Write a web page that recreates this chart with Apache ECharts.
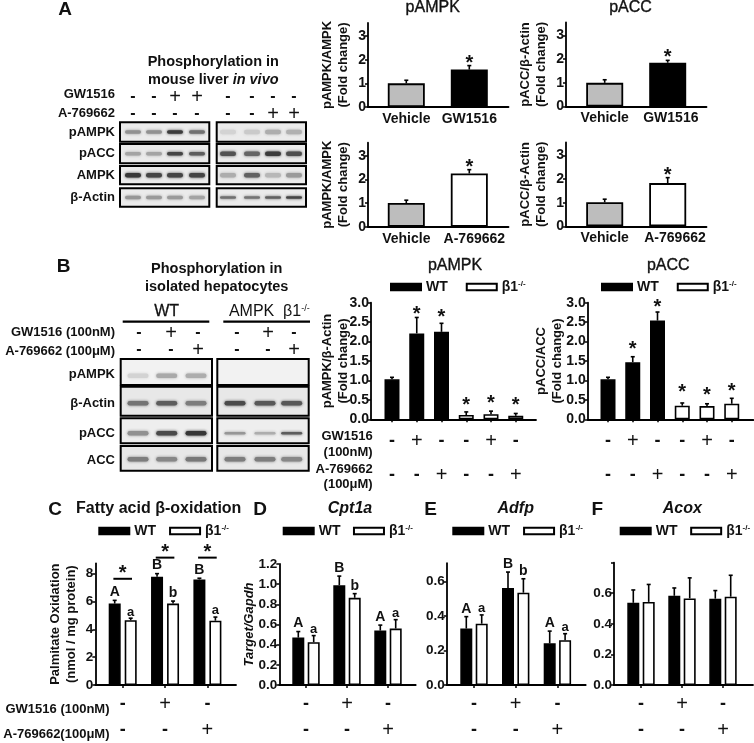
<!DOCTYPE html>
<html><head><meta charset="utf-8">
<style>html,body{margin:0;padding:0;background:#fff}#chart{width:754px;height:743px}#chart canvas{filter:blur(.3px)}</style>
<script src="https://cdn.jsdelivr.net/npm/echarts@6/dist/echarts.min.js"></script>
</head><body><div id="chart"></div>
<script>
// ---------- DATA ----------
const vehicleGw = ['Vehicle','GW1516'];
const vehicleA = ['Vehicle','A-769662'];
const aPampkGw = [1.0,1.58],  aPampkGwErr = [1.13,1.75];
const aPaccGw  = [1.0,1.85],  aPaccGwErr  = [1.13,1.95];
const aPampkA  = [1.0,2.25],  aPampkAErr  = [1.12,2.41];
const aPaccA   = [1.02,1.83], aPaccAErr   = [1.15,2.06];
const aStarLevels = [2.0,2.25,2.66,2.34];

const bGw   = ['-','+','-','-','+','-'];
const bA769 = ['-','-','+','-','-','+'];
const bPampk = [1.03,2.21,2.25,0.11,0.13,0.09], bPampkErr = [1.08,2.62,2.47,0.19,0.21,0.15];
const bPacc  = [1.03,1.47,2.54,0.35,0.34,0.40], bPaccErr  = [1.08,1.61,2.76,0.42,0.40,0.54];
const bPampkStars = [null,2.79,2.71,0.45,0.50,0.45];
const bPaccStars  = [null,1.91,2.98,0.80,0.72,0.82];

const groupGw   = ['-','+','-'];
const groupA769 = ['-','-','+'];
const cWt = [5.85,7.77,7.58], cWtErr = [6.08,8.0,7.67];
const cKo = [4.65,5.85,4.62], cKoErr = [4.8,6.03,4.88];
const dWt = [0.47,0.99,0.54], dWtErr = [0.53,1.08,0.594];
const dKo = [0.425,0.865,0.56], dKoErr = [0.49,0.906,0.648];
const eWt = [0.328,0.564,0.242], eWtErr = [0.397,0.656,0.313];
const eKo = [0.356,0.536,0.26], eKoErr = [0.407,0.617,0.298];
const fWt = [0.537,0.583,0.564], fWtErr = [0.621,0.634,0.617];
const fKo = [0.543,0.566,0.577], fKoErr = [0.657,0.70,0.717];
const upperLetters = ['A','B','B'], lowerLetters = ['a','b','a'];
const upperLettersD = ['A','B','A'];
const cBracketLevels = [7.63,9.15,9.15];

const blotALabels = ['pAMPK','pACC','AMPK','β-Actin'];
const blotAGw = [[.45,.45,.9,.62],[.35,.35,.85,.72],[.92,.85,.85,.85],[.42,.4,.4,.35]];
const blotAA  = [[.1,.15,.3,.28],[.78,.68,.9,.8],[.3,.7,.25,.4],[.62,.6,.7,.85]];
const blotAGwRow1 = ['-','-','+','+','-','-','-','-'];
const blotAARow2  = ['-','-','-','-','-','-','+','+'];
const blotBLabels = ['pAMPK','β-Actin','pACC','ACC'];
const blotBWt = [[.1,.32,.3],[.6,.72,.55],[.45,.82,.92],[.55,.5,.58]];
const blotBKo = [[0,0,0],[.82,.75,.75],[.42,.3,.72],[.55,.55,.5]];
const blotBRow1 = ['-','+','-','-','+','-'];
const blotBRow2 = ['-','-','+','-','-','+'];

// ---------- STYLE / LAYOUT ----------
const FF = '"Liberation Sans", Arial, sans-serif';
const INK = '#111';
const bold = s => `bold ${s}px ${FF}`;
const GREY = '#bdbdbd';
const signRich = {
  m:{fontFamily:FF,fontWeight:'bold',fontSize:18,color:INK},
  p:{fontFamily:FF,fontWeight:'normal',fontSize:20,color:INK}
};
const signs = (arr,i)=>'{'+(arr[i]==='+'?'p':'m')+'|'+arr[i]+'}';

const grids=[],xAxes=[],yAxes=[],series=[],legends=[],graphics=[];

function T(x,y,text,o={}){
  graphics.push({type:'text',x,y,silent:true,z:20,style:{text,fill:INK,font:o.font||bold(13),
    align:o.align||'center',verticalAlign:'middle',textAlign:o.align||'center',textVerticalAlign:'middle',
    rich:o.rich,stroke:o.stroke,lineWidth:o.lineWidth}});
}

function errSeries(idx,xs,vals,errs,o={}){
  series.push({
    type:'custom',name:'err'+idx,xAxisIndex:idx,yAxisIndex:idx,clip:false,silent:true,z:5,
    encode:{x:0,y:[1,2]},
    data:xs.map((x,i)=>[x,vals[i],errs[i]]),
    renderItem(params,api){
      const x=api.value(0),v=api.value(1),hi=api.value(2),i=params.dataIndex;
      const a=api.coord([x,v]),b=api.coord([x,hi]),c=o.cap||2;
      const st={stroke:'#000',lineWidth:o.lw||1.6,fill:'none'};
      const ch=[
        {type:'line',shape:{x1:a[0],y1:a[1],x2:b[0],y2:b[1]},style:st},
        {type:'line',shape:{x1:b[0]-c,y1:b[1],x2:b[0]+c,y2:b[1]},style:st}];
      if(o.stars&&o.stars[i]!=null){
        const p=api.coord([x,o.stars[i]]);
        ch.push({type:'text',x:p[0],y:p[1]+4,style:{text:'*',font:bold(20),fill:INK,align:'center',verticalAlign:'middle',textAlign:'center',textVerticalAlign:'middle'}});
      }
      if(o.letters&&o.letters[i]){
        const l=o.letters[i],up=l==='a'?6.2:8;
        ch.push({type:'text',x:b[0],y:b[1]-up,style:{text:l,font:bold(l==='a'?13:14),fill:INK,align:'center',verticalAlign:'middle',textAlign:'center',textVerticalAlign:'middle'}});
      }
      return {type:'group',children:ch};
    }
  });
}

function panel(p){
  const idx=grids.length;
  const pxPerUnit=(p.y0-p.yRef)/p.refVal;
  const top=p.y0-p.max*pxPerUnit;
  grids.push({left:p.x0,top,width:p.x1-p.x0,height:p.y0-top,containLabel:false});
  const xMin=(p.x0-p.c0)/p.step, xMax=(p.x1-p.c0)/p.step;
  xAxes.push({gridIndex:idx,type:'value',min:xMin,max:xMax,splitLine:{show:false},
    axisLine:{onZero:false,lineStyle:{color:'#000',width:p.axisW||1.8}},
    axisTick:{show:p.xTicks!==false,customValues:p.slots,length:3,lineStyle:{color:'#000',width:1.5}},
    axisLabel:{customValues:p.labelSlots||p.slots,margin:p.xMargin,formatter:p.xFmt,interval:0,
      fontFamily:FF,fontWeight:'bold',fontSize:14,color:INK,lineHeight:p.rowH,rich:p.xRich}});
  yAxes.push({gridIndex:idx,type:'value',min:0,max:p.max,splitLine:{show:false},
    name:p.yName,nameLocation:'middle',nameRotate:90,nameGap:p.nameGap,nameMoveOverlap:false,
    nameTextStyle:{fontFamily:FF,fontWeight:'bold',fontStyle:p.nameItalic?'italic':'normal',fontSize:13,color:INK,lineHeight:16},
    axisLine:{show:true,onZero:false,lineStyle:{color:'#000',width:p.axisW||1.8}},
    axisTick:{show:true,customValues:p.ticks,length:3,lineStyle:{color:'#000',width:1.5}},
    axisLabel:{customValues:p.labels||p.ticks,margin:p.yMargin||2,fontFamily:FF,fontWeight:'bold',fontSize:p.tickFont||14,color:INK,
      formatter:v=>Number(v).toFixed(p.dec)}});
  return idx;
}

// ---------- PANEL A ----------
function panelA(o){
  const idx=panel({x0:o.x0,x1:o.x0+140.5,y0:o.y0,yRef:o.y0-71,refVal:3,max:3.55,c0:o.c0,step:63,
    slots:[0,1],labelSlots:[0,1+o.labelShift],xMargin:4,rowH:16,ticks:[0,1,2,3],dec:0,yName:o.yName+'\n(Fold change)',nameGap:17,xTicks:false,
    xFmt:v=>o.cats[Math.round(v)]});
  series.push({type:'bar',name:o.yName,xAxisIndex:idx,yAxisIndex:idx,barWidth:37,barGap:'-100%',
    data:o.vals.map((y,i)=>({value:[i,y],itemStyle:{color:i===0?GREY:o.fill}})),
    itemStyle:{borderColor:'#000',borderWidth:1.8},silent:true});
  errSeries(idx,[0,1],o.vals,o.errs,{stars:[null,o.star]});
}
panelA({x0:368,y0:107,c0:406.3,labelShift:0,cats:vehicleGw,yName:'pAMPK/AMPK',vals:aPampkGw,errs:aPampkGwErr,fill:'#000',star:aStarLevels[0]});
panelA({x0:566,y0:106.5,c0:604.7,labelShift:.05,cats:vehicleGw,yName:'pACC/β-Actin',vals:aPaccGw,errs:aPaccGwErr,fill:'#000',star:aStarLevels[1]});
panelA({x0:368,y0:226.7,c0:406.3,labelShift:.08,cats:vehicleA,yName:'pAMPK/AMPK',vals:aPampkA,errs:aPampkAErr,fill:'#fff',star:aStarLevels[2]});
panelA({x0:566,y0:226.4,c0:604.7,labelShift:.116,cats:vehicleA,yName:'pACC/β-Actin',vals:aPaccA,errs:aPaccAErr,fill:'#fff',star:aStarLevels[3]});

// ---------- LEGENDS ----------
const legendRich={w:{fontFamily:FF,fontWeight:'bold',fontSize:14,color:INK},
  b:{fontFamily:FF,fontWeight:'bold',fontSize:14,color:INK},
  s:{fontFamily:FF,fontWeight:'bold',fontSize:8,color:INK,verticalAlign:'top',padding:[0,0,5,0]}};
function legend(left,cy,gap){
  legends.push({left,top:cy-9,padding:0,orient:'horizontal',itemWidth:30,itemHeight:6.5,itemGap:gap,icon:'rect',selectedMode:false,
    data:['WT','β1-/-'],textStyle:{rich:legendRich,fontSize:14,fontWeight:'bold',fontFamily:FF,color:INK},
    formatter:n=>n==='WT'?'{w|WT}':'{b|β1}{s|-/-}'});
}

// ---------- PANEL B ----------
function panelB(o){
  const slots=[0,1,2,3,4,5];
  const idx=panel({x0:o.x0,x1:o.x1,y0:419.3,yRef:302.7,refVal:3,max:3,c0:o.c0,step:24.75,slots,xMargin:5,rowH:34,
    ticks:[0,.5,1,1.5,2,2.5,3],dec:1,yName:o.yName+'\n(Fold change)',nameGap:o.nameGap,
    xFmt:v=>{const i=Math.round(v);return signs(bGw,i)+'\n'+signs(bA769,i);},xRich:signRich});
  series.push({type:'bar',name:'WT',xAxisIndex:idx,yAxisIndex:idx,barWidth:15,barGap:'-100%',silent:true,
    data:[0,1,2].map(i=>[i,o.vals[i]]),itemStyle:{color:'#000',borderColor:'#000',borderWidth:1.6}});
  series.push({type:'bar',name:'β1-/-',xAxisIndex:idx,yAxisIndex:idx,barWidth:15,barGap:'-100%',silent:true,
    data:[3,4,5].map(i=>[i,o.vals[i]]),itemStyle:{color:'#fff',borderColor:'#000',borderWidth:1.6}});
  errSeries(idx,slots,o.vals,o.errs,{stars:o.stars});
}
panelB({x0:371,x1:536,c0:392,yName:'pAMPK/β-Actin',vals:bPampk,errs:bPampkErr,stars:bPampkStars,nameGap:20});
panelB({x0:587.7,x1:753.3,c0:608,yName:'pACC/ACC',vals:bPacc,errs:bPaccErr,stars:bPaccStars,nameGap:22});
legend(390,289,18); legend(601,289,18);

// ---------- PANELS C–F ----------
function panelG(o){
  const slots=[0,1,2],d=o.off/o.step;
  const idx=panel({x0:o.x0,x1:o.x1,y0:o.y0,yRef:o.yRef,refVal:o.refVal,max:o.max,c0:o.c0,step:o.step,slots,xMargin:6,rowH:26,
    ticks:o.ticks,labels:o.labels,dec:o.dec,yName:o.yName,nameGap:o.nameGap,nameItalic:o.italic,tickFont:13.5,yMargin:2,
    xFmt:v=>{const i=Math.round(v);return signs(groupGw,i)+'\n'+signs(groupA769,i);},xRich:signRich});
  const wx=slots.map(s=>s-d),kx=slots.map(s=>s+d);
  series.push({type:'bar',name:'WT',xAxisIndex:idx,yAxisIndex:idx,barWidth:12,barGap:'-100%',silent:true,
    data:wx.map((x,i)=>[x,o.wt[i]]),itemStyle:{color:'#000',borderColor:'#000',borderWidth:1.6}});
  series.push({type:'bar',name:'β1-/-',xAxisIndex:idx,yAxisIndex:idx,barWidth:12,barGap:'-100%',silent:true,
    data:kx.map((x,i)=>[x,o.ko[i]]),itemStyle:{color:'#fff',borderColor:'#000',borderWidth:1.6}});
  errSeries(idx,wx,o.wt,o.wtErr,{letters:o.upper});
  errSeries(idx,kx,o.ko,o.koErr,{letters:o.lower});
  return idx;
}
const cIdx=panelG({x0:95.3,x1:236,y0:689.3,yRef:574,refVal:8,max:8.74,c0:122.7,step:42.35,off:8,dec:0,ticks:[0,2,4,6,8],
  yName:'Palmitate Oxidation\n(nmol / mg protein)',nameGap:16,wt:cWt,wtErr:cWtErr,ko:cKo,koErr:cKoErr,upper:upperLetters,lower:lowerLetters});
panelG({x0:279.3,x1:415.7,y0:689.3,yRef:564,refVal:1.2,max:1.2,c0:306,step:41,off:7.7,dec:1,ticks:[0,.2,.4,.6,.8,1,1.2],
  yName:'Target/Gapdh',italic:true,nameGap:22,wt:dWt,wtErr:dWtErr,ko:dKo,koErr:dKoErr,upper:upperLettersD,lower:lowerLetters});
panelG({x0:446.7,x1:585.7,y0:689,yRef:582.3,refVal:.6,max:.707,c0:474,step:41.7,off:7.7,dec:1,ticks:[0,.2,.4,.6],
  yName:'',nameGap:20,wt:eWt,wtErr:eWtErr,ko:eKo,koErr:eKoErr,upper:upperLettersD,lower:lowerLetters});
panelG({x0:614,x1:753,y0:688.3,yRef:594,refVal:.6,max:.8,c0:641,step:41,off:7.7,dec:1,ticks:[0,.2,.4,.6,.8],labels:[0,.2,.4,.6],
  yName:'',nameGap:20,wt:fWt,wtErr:fWtErr,ko:fKo,koErr:fKoErr});
legend(98.3,533,13); legend(282.7,533,12.5); legend(452.3,533,13); legend(619.7,533,12.7);

// brackets above panel C
series.push({type:'custom',name:'brackets',xAxisIndex:cIdx,yAxisIndex:cIdx,clip:false,silent:true,z:5,encode:{x:0,y:1},
  data:cBracketLevels.map((l,i)=>[i,l]),
  renderItem(params,api){
    const x=api.value(0),l=api.value(1),a=api.coord([x-.22,l]),b=api.coord([x+.22,l]);
    return {type:'group',children:[
      {type:'line',shape:{x1:a[0],y1:a[1],x2:b[0],y2:b[1]},style:{stroke:'#000',lineWidth:2}},
      {type:'text',x:(a[0]+b[0])/2,y:a[1]-5,style:{text:'*',font:bold(20),fill:INK,align:'center',verticalAlign:'middle',textAlign:'center',textVerticalAlign:'middle'}}]};
  }});

// ---------- BLOTS ----------
function box(x,y,w,h,fill){graphics.push({type:'rect',silent:true,z:10,shape:{x,y,width:w,height:h},
  style:{fill:fill||'#ebebeb',stroke:'#000',lineWidth:2}});}
function band(cx,cy,w,h,int){
  if(int<=0)return;
  const g=Math.round(230-190*int),c=`rgb(${g},${g},${g})`;
  graphics.push({type:'rect',silent:true,z:11,shape:{x:cx-w/2,y:cy-h/2,width:w,height:h,r:h/2},
    style:{fill:c,shadowBlur:3,shadowColor:c}});
}
// Panel A blots
const aRowsY=[[122.3,19.4],[144,19.3],[166,18.3],[188.3,18.4]];
const aBandL=[133,154,175,197], aBandR=[228,252,273,294];
const aCentre=[132,153.7,175.2,197.5];
aRowsY.forEach((r,ri)=>{
  box(120,r[0],89.3,r[1]); box(216.7,r[0],89.3,r[1]);
  blotAGw[ri].forEach((v,i)=>band(aBandL[i],aCentre[ri],16,ri===2?4.5:3.5,v));
  blotAA[ri].forEach((v,i)=>band(aBandR[i],aCentre[ri],16,ri===3?2.5:4.5,v));
  T(115,aCentre[ri],blotALabels[ri],{align:'right',font:bold(13)});
});
const aSignX=aBandL.concat(aBandR);
aSignX.forEach((x,i)=>{
  T(x,97,blotAGwRow1[i],blotAGwRow1[i]==='+'?{font:`normal 20px ${FF}`}:{font:bold(16)});
  T(x,114,blotAARow2[i],blotAARow2[i]==='+'?{font:`normal 20px ${FF}`}:{font:bold(16)});
});
T(115,94,'GW1516',{align:'right'}); T(115,113,'A-769662',{align:'right'});
T(65,9.5,'A',{font:bold(19)});
T(213.3,62,'Phosphorylation in',{font:bold(14.5)});
T(213.3,79.5,'{a|mouse liver }{i|in vivo}',{rich:{a:{font:bold(14.5),fill:INK},i:{font:`italic bold 14.5px ${FF}`,fill:INK}}});

// Panel B blots
const bRows=[[359,26],[386.7,29],[418.3,25],[446,24.7]];
const bCentre=[375.7,403.3,433.3,459.3], bLabelY=[374,403.3,433,460];
const bBandL=[138,166.7,196], bBandR=[235,265,291.7];
const bFill=['#f2f2f2','#e8e8e8','#eeeeee','#e8e8e8'];
bRows.forEach((r,ri)=>{
  box(120.7,r[0],91.3,r[1],bFill[ri]); box(217.3,r[0],91.4,r[1],bFill[ri]);
  blotBWt[ri].forEach((v,i)=>band(bBandL[i],bCentre[ri],21,4.5,v));
  blotBKo[ri].forEach((v,i)=>band(bBandR[i],bCentre[ri],21,ri===2?2.5:4.5,v));
  T(115,bLabelY[ri],blotBLabels[ri],{align:'right'});
});
const bSignX=[139,171,198,237,268,294];
bSignX.forEach((x,i)=>{
  T(x,333,blotBRow1[i],blotBRow1[i]==='+'?{font:`normal 20px ${FF}`}:{font:bold(16)});
  T(x,350,blotBRow2[i],blotBRow2[i]==='+'?{font:`normal 20px ${FF}`}:{font:bold(16)});
});
T(115,332.3,'GW1516 (100nM)',{align:'right'}); T(115,351.7,'A-769662 (100μM)',{align:'right'});
T(63.5,267,'B',{font:bold(19)});
T(216.7,269.3,'Phosphorylation in',{font:bold(14.5)}); T(216.7,286.7,'isolated hepatocytes',{font:bold(14.5)});
T(166.7,311.7,'WT',{font:`normal 16px ${FF}`,stroke:INK,lineWidth:.3});
T(269.3,311.7,'{a|AMPK  β1}{s|-/-}',{rich:{a:{font:`normal 16px ${FF}`,fill:INK},s:{font:`normal 9px ${FF}`,fill:INK,verticalAlign:'top',padding:[0,0,5,0]}}});
[[122.7,209.3],[223.3,310]].forEach(l=>graphics.push({type:'line',silent:true,shape:{x1:l[0],y1:321.7,x2:l[1],y2:321.7},style:{stroke:'#000',lineWidth:2.2}}));

// Titles
const titleFont=`normal 16px ${FF}`;
[[432.7,8,'pAMPK'],[630.5,8,'pACC'],[455,266,'pAMPK'],[668.3,266,'pACC']].forEach(t=>T(t[0],t[1],t[2],{font:titleFont,stroke:INK,lineWidth:.35}));
T(55,509.5,'C',{font:bold(19)}); T(260,509.5,'D',{font:bold(19)}); T(430.7,509.5,'E',{font:bold(19)}); T(597.3,509.5,'F',{font:bold(19)});
T(158.7,509,'Fatty acid β-oxidation',{font:bold(16)});
const italicTitle=`italic bold 16px ${FF}`;
T(350,509,'Cpt1a',{font:italicTitle}); T(515.7,509,'Adfp',{font:italicTitle}); T(682.3,509,'Acox',{font:italicTitle});

// Row labels for dose rows
T(372.7,436.7,'GW1516',{align:'right'}); T(372.7,452.3,'(100nM)',{align:'right'});
T(372.7,469.3,'A-769662',{align:'right'}); T(372.7,484.3,'(100μM)',{align:'right'});
T(109.5,709.3,'GW1516 (100nM)',{align:'right'}); T(109.5,734.7,'A-769662(100μM)',{align:'right'});

const chart=echarts.init(document.getElementById('chart'),null,{renderer:'canvas'});
chart.setOption({animation:false,backgroundColor:'#fff',textStyle:{fontFamily:FF},
  grid:grids,xAxis:xAxes,yAxis:yAxes,series,legend:legends,graphic:{elements:graphics}});
</script></body></html>
